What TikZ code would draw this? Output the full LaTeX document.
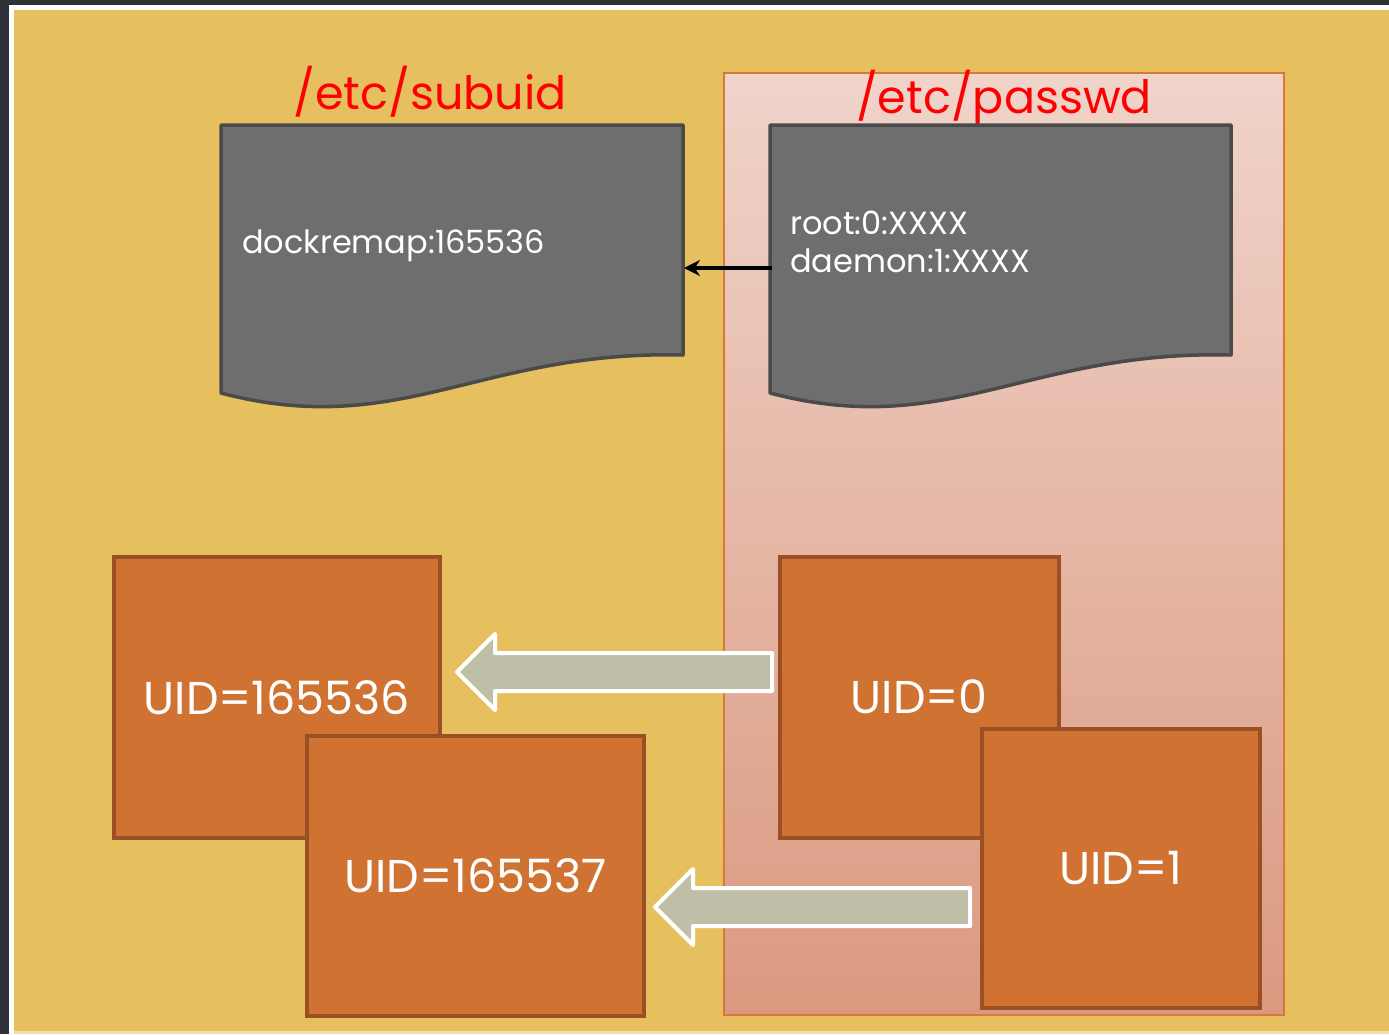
\documentclass[tikz,border=0pt]{standalone}
\usepackage{fontspec}
\setmainfont{Poppins}
\usetikzlibrary{arrows.meta}
\definecolor{framedark}{HTML}{2E3135}
\definecolor{bgyellow}{HTML}{E6BF5F}
\definecolor{bottomline}{HTML}{F2DDA6}
\definecolor{pinktop}{HTML}{F0D4CA}
\definecolor{pinkbot}{HTML}{DA997F}
\definecolor{panelborder}{HTML}{D9773A}
\definecolor{docfill}{HTML}{6E6E6E}
\definecolor{docline}{HTML}{4A4A4A}
\definecolor{boxfill}{HTML}{D07232}
\definecolor{boxline}{HTML}{9A4F25}
\definecolor{arrowfill}{HTML}{BEBFA6}
\definecolor{titlered}{HTML}{FF0000}
\tikzset{
  docshape/.style={fill=docfill, draw=docline, line width=3.5pt, line join=round},
  doctext/.style={text=white, font=\fontsize{32}{38}\selectfont, anchor=west, inner sep=0pt, align=left},
  titletext/.style={text=titlered, font=\fontsize{46}{50}\selectfont, inner sep=0pt},
  uidbox/.style={fill=boxfill, draw=boxline, line width=3.5pt, anchor=north west, text=white,
                 font=\fontsize{46}{50}\selectfont, inner sep=0pt},
  blockarrow/.style={fill=arrowfill, draw=white, line width=4pt, line join=round},
  thinarrow/.style={draw=black, line width=4.5pt, -{Stealth[length=16pt,width=16pt]}}
}
\begin{document}
\begin{tikzpicture}[x=1pt,y=-1pt]
\useasboundingbox (0,0) rectangle (1389,1034);
% frame
\fill[framedark] (0,0) rectangle (1389,1034);
\fill[white] (9,5) rectangle (1389,1034);
\fill[bgyellow] (14,10) rectangle (1389,1031);
\fill[bottomline] (14,1031) rectangle (1389,1034);
% pink panel
\shade[top color=pinktop, bottom color=pinkbot] (724,73) rectangle (1284,1015);
\draw[panelborder, line width=1.5pt] (724,73) rectangle (1284,1015);
% titles
\node[titletext] (t1) at (430,92) {/etc/subuid};
\node[titletext] (t2) at (1004,98) {/etc/passwd};
% documents
\draw[docshape] (221,125) -- (683,125) -- (683,355)
  .. controls (480,350) and (400,440) .. (221,393) -- cycle;
\draw[docshape] (770,125) -- (1231,125) -- (1231,355)
  .. controls (1028,350) and (948,440) .. (770,393) -- cycle;
\node[doctext] (d1) at (242,246) {dockremap:165536};
\node[doctext] (d2) at (790,242) {root:0:XXXX\\daemon:1:XXXX};
\coordinate (d2left) at (772,268);
\coordinate (d1right) at (684,268);
\draw[thinarrow] (d2left) -- (d1right);
% uid boxes
\node[uidbox, minimum width=326pt, minimum height=281pt] (a) at (112,555) {UID=165536};
\node[uidbox, minimum width=337pt, minimum height=280pt] (b) at (305,734) {UID=165537};
\node[uidbox, minimum width=279pt, minimum height=281pt] (c) at (778,555) {UID=0};
\node[uidbox, minimum width=278pt, minimum height=279pt] (d) at (980,727) {UID=1};
% block arrows
\draw[blockarrow] (772,653) -- (495,653) -- (495,634) -- (457,672) -- (495,710) -- (495,691) -- (772,691) -- cycle;
\draw[blockarrow] (970,888) -- (693,888) -- (693,869) -- (655,907) -- (693,945) -- (693,926) -- (970,926) -- cycle;
\end{tikzpicture}
\end{document}
